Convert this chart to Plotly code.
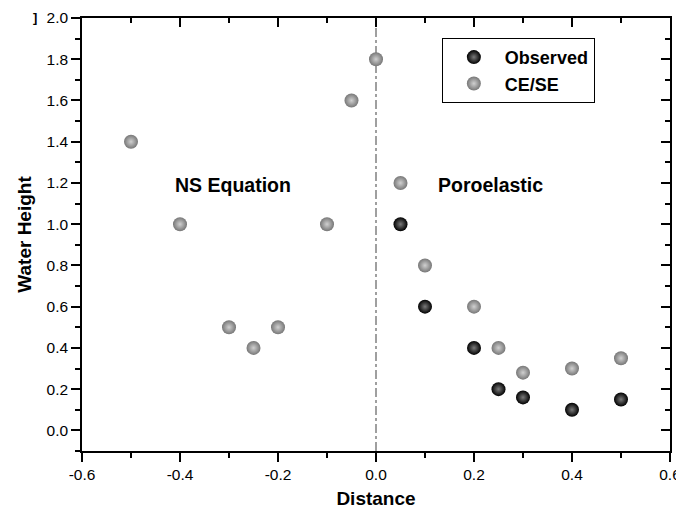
import plotly.graph_objects as go

# Data
ce_x = [-0.5, -0.4, -0.3, -0.25, -0.2, -0.1, -0.05, 0.0, 0.05, 0.1, 0.2, 0.25, 0.3, 0.4, 0.5]
ce_y = [1.4, 1.0, 0.5, 0.4, 0.5, 1.0, 1.6, 1.8, 1.2, 0.8, 0.6, 0.4, 0.28, 0.3, 0.35]
obs_x = [0.05, 0.1, 0.2, 0.25, 0.3, 0.4, 0.5]
obs_y = [1.0, 0.6, 0.4, 0.2, 0.16, 0.1, 0.15]
x_ticks = [-0.6, -0.4, -0.2, 0.0, 0.2, 0.4, 0.6]
y_ticks = [0.0, 0.2, 0.4, 0.6, 0.8, 1.0, 1.2, 1.4, 1.6, 1.8, 2.0]

FONT = "Liberation Sans, Arial, sans-serif"

fig = go.Figure()
fig.add_trace(go.Scatter(
    x=obs_x, y=obs_y, mode="markers", name="<b>Observed</b>",
    marker=dict(size=14, color="#000000", line=dict(width=0),
                gradient=dict(type="radial", color="#7a7a7a")),
))
fig.add_trace(go.Scatter(
    x=ce_x, y=ce_y, mode="markers", name="<b>CE/SE</b>",
    marker=dict(size=14, color="#777777", line=dict(width=0),
                gradient=dict(type="radial", color="#d0d0d0")),
))
# dummy trace for the mirrored inside-tick axes
fig.add_trace(go.Scatter(x=[None], y=[None], xaxis="x2", yaxis="y2",
                         showlegend=False, hoverinfo="skip"))

fig.add_shape(type="line", x0=0, x1=0, y0=-0.1, y1=2.0, xref="x", yref="y",
              line=dict(color="#808080", width=1.5, dash="dashdot"), layer="below")

fig.add_annotation(x=-0.292, y=1.19, text="<b>NS Equation</b>", showarrow=False,
                   font=dict(family=FONT, size=19.5, color="black"))
fig.add_annotation(x=0.233, y=1.19, text="<b>Poroelastic</b>", showarrow=False,
                   font=dict(family=FONT, size=19.5, color="black"))
fig.add_annotation(x=-0.085, y=1.02, xref="paper", yref="paper", yanchor="top",
                   text="<b>]</b>", showarrow=False, borderpad=0,
                   font=dict(family=FONT, size=13, color="black"))

axis_common = dict(showgrid=False, zeroline=False, showline=True, linecolor="black",
                   linewidth=1.5, tickcolor="black", tickwidth=1.5, automargin=False)

fig.update_layout(
    width=676, height=508,
    margin=dict(l=74, r=14, t=10, b=65),
    plot_bgcolor="white", paper_bgcolor="white",
    font=dict(family=FONT, size=16, color="black"),
    xaxis=dict(range=[-0.6, 0.6], tickvals=x_ticks, ticktext=[f"{v:.1f}" for v in x_ticks],
               ticks="outside", ticklen=9,
               minor=dict(ticks="outside", ticklen=5, dtick=0.1, tickcolor="black", tickwidth=1.5),
               title=dict(text="<b>Distance</b>", font=dict(size=19), standoff=9),
               tickfont=dict(size=15.5), **axis_common),
    yaxis=dict(range=[-0.1, 2.0], tickvals=y_ticks, ticktext=[f"{v:.1f}" for v in y_ticks],
               ticks="outside", ticklen=9,
               minor=dict(ticks="outside", ticklen=5, dtick=0.1, tick0=0, tickcolor="black", tickwidth=1.5),
               title=dict(text="<b>Water Height</b>", font=dict(size=19), standoff=10),
               tickfont=dict(size=15.5), **axis_common),
    xaxis2=dict(range=[-0.6, 0.6], overlaying="x", side="top", anchor="y",
                tickvals=x_ticks, showticklabels=False, ticks="inside", ticklen=9,
                minor=dict(ticks="inside", ticklen=5, dtick=0.1, tickcolor="black", tickwidth=1.5),
                **axis_common),
    yaxis2=dict(range=[-0.1, 2.0], overlaying="y", side="right", anchor="x",
                tickvals=y_ticks, showticklabels=False, ticks="inside", ticklen=9,
                minor=dict(ticks="inside", ticklen=5, dtick=0.1, tick0=0, tickcolor="black", tickwidth=1.5),
                **axis_common),
    legend=dict(x=0.612, y=0.954, xanchor="left", yanchor="top",
                bordercolor="black", borderwidth=1, bgcolor="white",
                font=dict(family=FONT, size=18), itemwidth=52,
                tracegroupgap=0),
    showlegend=True,
)

fig.write_html("out.html")
